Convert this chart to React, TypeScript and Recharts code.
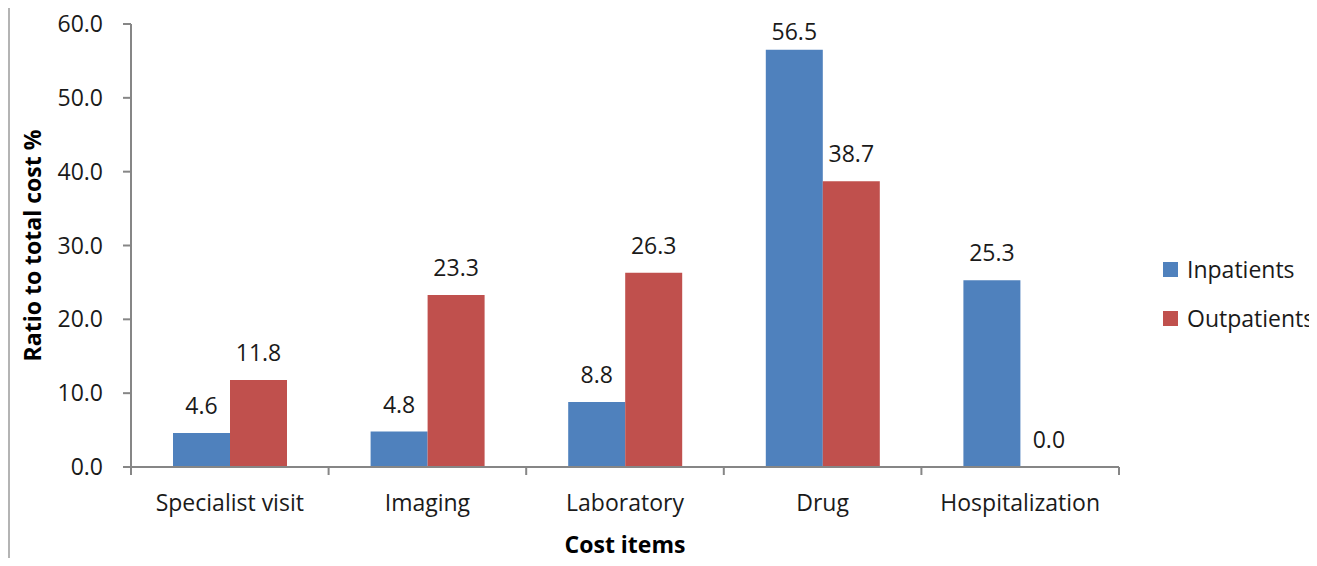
import React from 'react';
import { BarChart, Bar, XAxis, YAxis, LabelList } from 'recharts';

const categories = ['Specialist visit', 'Imaging', 'Laboratory', 'Drug', 'Hospitalization'];
const inpatients = [4.6, 4.8, 8.8, 56.5, 25.3];
const outpatients = [11.8, 23.3, 26.3, 38.7, 0.0];
const yTicks = [0, 10, 20, 30, 40, 50, 60];

const BLUE = '#4F81BD';
const RED = '#C0504D';
const AXIS = '#868686';
const FONT = '"Open Sans", sans-serif';
const FS = 23;
const TICK_SIZE = 8;
const TICK_MARGIN = 20;

const data = categories.map((name, i) => ({
  name,
  inpatients: inpatients[i],
  outpatients: outpatients[i],
}));

// value label above bar, kept inside the plot top like Excel does
const renderValue = (props: any) => {
  const { x, y, width, value } = props;
  const ty = Math.max(y - 19, 40);
  return (
    <text x={x + width / 2} y={ty} textAnchor="middle" fill="#1a1a1a" fontSize={FS} fontFamily={FONT}>
      {Number(value).toFixed(1)}
    </text>
  );
};

// category label + Excel-style tick marks between categories
const CategoryTick = (props: any) => {
  const { x, y, payload, index, visibleTicksCount } = props;
  const half = payload.offset || 0;
  const axisY = y - TICK_MARGIN - TICK_SIZE;
  const isLast = index === visibleTicksCount - 1;
  return (
    <g>
      <line x1={x - half} x2={x - half} y1={axisY} y2={axisY + TICK_SIZE} stroke={AXIS} strokeWidth={2} />
      {isLast && <line x1={x + half} x2={x + half} y1={axisY} y2={axisY + TICK_SIZE} stroke={AXIS} strokeWidth={2} />}
      <text x={x} y={y} dy="0.71em" textAnchor="middle" fill="#1a1a1a" fontSize={FS} fontFamily={FONT}>
        {payload.value}
      </text>
    </g>
  );
};

export default function App() {
  return (
    <div style={{ position: 'relative', width: 1317, height: 566, margin: -8, background: '#fff', overflow: 'hidden', fontFamily: FONT }}>
      <div style={{ position: 'absolute', left: 8, top: 3, width: 1400, height: 564, border: '2px solid #b4b4b4', boxSizing: 'border-box' }} />
      <div style={{ position: 'absolute', left: 0, top: 0 }}>
        <BarChart width={1317} height={566} data={data} margin={{ top: 24, right: 198, left: 0, bottom: 0 }} barGap={0} barSize={57}>
          <Bar dataKey="inpatients" fill={BLUE} isAnimationActive={false}>
            <LabelList dataKey="inpatients" content={renderValue} />
          </Bar>
          <Bar dataKey="outpatients" fill={RED} minPointSize={0.01} isAnimationActive={false}>
            <LabelList dataKey="outpatients" content={renderValue} />
          </Bar>
          <XAxis
            dataKey="name"
            height={99}
            axisLine={{ stroke: AXIS, strokeWidth: 2 }}
            tickLine={false}
            tickSize={TICK_SIZE}
            tickMargin={TICK_MARGIN}
            interval={0}
            tick={<CategoryTick />}
            label={{ value: 'Cost items', position: 'insideBottom', offset: 13, fill: '#000', fontSize: FS, fontWeight: 700, fontFamily: FONT }}
          />
          <YAxis
            width={131}
            domain={[0, 60]}
            ticks={yTicks}
            tickFormatter={(v: number) => v.toFixed(1)}
            tick={{ fill: '#1a1a1a', fontSize: FS, fontFamily: FONT }}
            tickSize={8}
            tickMargin={20}
            axisLine={{ stroke: AXIS, strokeWidth: 2 }}
            tickLine={{ stroke: AXIS, strokeWidth: 2 }}
            label={{
              value: 'Ratio to total cost %',
              angle: -90,
              position: 'insideLeft',
              offset: 33,
              fill: '#000',
              fontSize: FS,
              fontWeight: 700,
              fontFamily: FONT,
              style: { textAnchor: 'middle' },
            }}
          />
        </BarChart>
      </div>
      <div style={{ position: 'absolute', left: 1163, top: 254, fontSize: FS, color: '#1a1a1a', lineHeight: '30px' }}>
        {[['Inpatients', BLUE], ['Outpatients', RED]].map(([label, color], i) => (
          <div key={label} style={{ display: 'flex', alignItems: 'center', marginBottom: i === 0 ? 19 : 0, whiteSpace: 'nowrap' }}>
            <span style={{ display: 'inline-block', width: 15, height: 15, background: color, marginRight: 9 }} />
            {label}
          </div>
        ))}
      </div>
    </div>
  );
}
